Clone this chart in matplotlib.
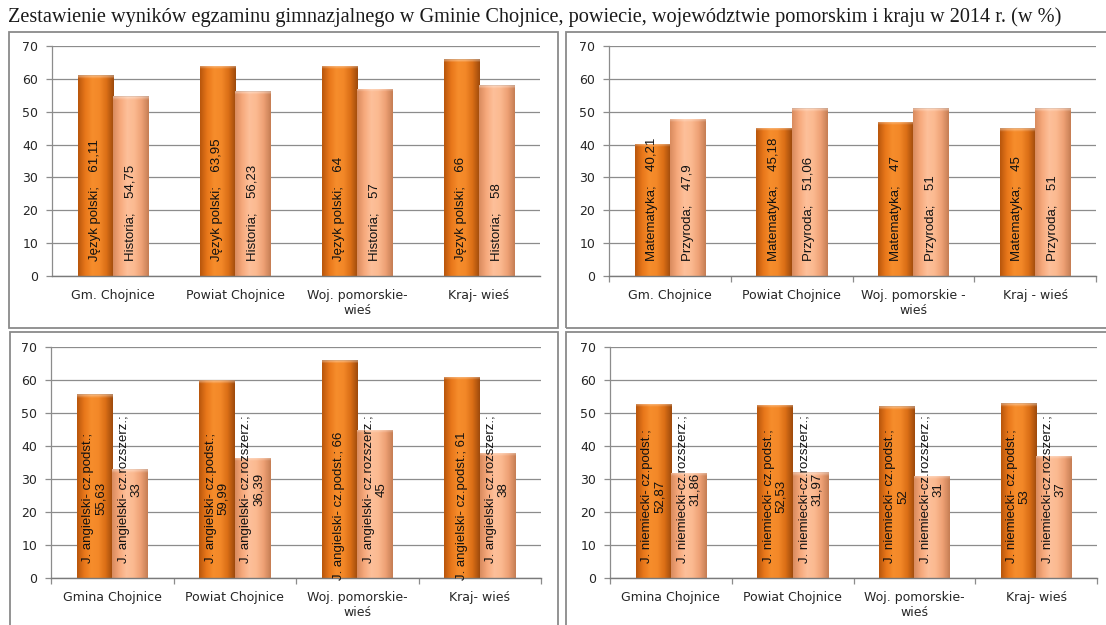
import matplotlib
matplotlib.use("Agg")
import matplotlib.pyplot as plt
import matplotlib.font_manager as fm
import numpy as np
from matplotlib.patches import Rectangle
from matplotlib.colors import to_rgb

# ---------------- data ----------------
title = ("Zestawienie wyników egzaminu gimnazjalnego w Gminie Chojnice, powiecie, "
         "województwie pomorskim i kraju w 2014 r. (w %)")

cats_tl = ["Gm. Chojnice", "Powiat Chojnice", "Woj. pomorskie-\nwieś", "Kraj- wieś"]
cats_tr = ["Gm. Chojnice", "Powiat Chojnice", "Woj. pomorskie -\nwieś", "Kraj - wieś"]
cats_b = ["Gmina Chojnice", "Powiat Chojnice", "Woj. pomorskie-\nwieś", "Kraj- wieś"]

polski = [61.11, 63.95, 64, 66]
historia = [54.75, 56.23, 57, 58]
matematyka = [40.21, 45.18, 47, 45]
przyroda = [47.9, 51.06, 51, 51]
ang_podst = [55.63, 59.99, 66, 61]
ang_rozsz = [33, 36.39, 45, 38]
niem_podst = [52.87, 52.53, 52, 53]
niem_rozsz = [31.86, 31.97, 31, 37]

name_polski = "Język polski;"
name_historia = "Historia;"
name_mat = "Matematyka;"
name_przyr = "Przyroda;"
name_ang_p = "J. angielski- cz.podst.;"
name_ang_r = "J. angielski- cz.rozszerz.;"
name_niem_p = "J. niemiecki- cz.podst.;"
name_niem_r = "J. niemiecki-cz.rozszerz.;"

# label wrapping as drawn in the source (style)
wrap_ang_p = [True, True, False, False]
wrap_all = [True, True, True, True]

# ---------------- style ----------------
W, H = 1106, 625
fig = plt.figure(figsize=(W / 100, H / 100), dpi=100)
fig.patch.set_facecolor("white")

installed = {f.name for f in fm.fontManager.ttflist}
if "Liberation Sans Narrow" in installed:
    lab_family = ["Liberation Sans Narrow", "DejaVu Sans"]
    lab_size = 11
else:
    lab_family = ["Liberation Sans", "DejaVu Sans"]
    lab_size = 9.5

DARK = ["#B9560C", "#E8771A", "#F68D2C", "#F38828", "#DA6E16", "#9E4A0C"]
LIGHT = ["#D98B5E", "#F6A97C", "#FDC09A", "#FBB990", "#EEA175", "#C67E54"]
GRID = "#8c8c8c"


def fmt(v):
    return f"{v:g}".replace(".", ",")


def profile(cols, n=64):
    rgb = np.array([to_rgb(c) for c in cols])
    xs = np.linspace(0, 1, len(cols))
    t = np.linspace(0, 1, n)
    return np.stack([np.interp(t, xs, rgb[:, k]) for k in range(3)], axis=1)


def shade_bars(ax, bars, cols):
    prof = profile(cols)
    for b in bars:
        x, y, w, h = b.get_x(), b.get_y(), b.get_width(), b.get_height()
        nrows = 300
        img = np.repeat(prof[None, :, :], nrows, axis=0)
        bev = max(2, int(nrows * 1.3 / h))
        ramp = np.linspace(0.45, 0.0, bev)[:, None, None]
        img[:bev] = img[:bev] + (1 - img[:bev]) * ramp
        img[0] = img[0] * 0.85
        im = ax.imshow(img, extent=[x, x + w, y, y + h], aspect="auto",
                       interpolation="bilinear", zorder=2.5, origin="upper")
        im.set_clip_path(b)


def panel(rect_px, axes_px, cats, s1, s2, l1, l2, minor_ticks, twoline=False):
    x0, y0, x1, y1 = rect_px
    fig.add_artist(Rectangle((x0 / W, 1 - y1 / H), (x1 - x0) / W, (y1 - y0) / H,
                             transform=fig.transFigure, fill=False,
                             ec="#8a8a8a", lw=1.3, zorder=0))
    ax_l, ax_r, ax_zero, ax_top = axes_px
    ax = fig.add_axes([ax_l / W, 1 - ax_zero / H, (ax_r - ax_l) / W, (ax_zero - ax_top) / H])
    x = np.arange(len(cats))
    bw = 0.29
    b1 = ax.bar(x - bw / 2, s1, bw, color=DARK[2], zorder=2, lw=0)
    b2 = ax.bar(x + bw / 2, s2, bw, color=LIGHT[2], zorder=2, lw=0)
    shade_bars(ax, b1, DARK)
    shade_bars(ax, b2, LIGHT)
    for bars, labs in ((b1, l1), (b2, l2)):
        for b, t in zip(bars, labs):
            xc = b.get_x() + b.get_width() / 2
            base = -0.5 if (twoline and "\n" not in t) else 4.5
            ax.text(xc, base, t, rotation=90, rotation_mode="anchor", ha="left",
                    va="center", multialignment="center", fontsize=lab_size,
                    family=lab_family, linespacing=1.05, color="#111111", zorder=5)
    ax.set_xlim(-0.5, len(cats) - 0.5)
    ax.set_ylim(0, 70)
    ax.set_yticks(range(0, 71, 10))
    ax.set_xticks(x)
    ax.set_xticklabels(cats, fontsize=9, color="#262626", family="DejaVu Sans", linespacing=1.25)
    ax.tick_params(axis="x", which="major", length=0, pad=9)
    if minor_ticks:
        ax.set_xticks(np.arange(-0.5, len(cats), 1.0), minor=True)
        ax.tick_params(axis="x", which="minor", length=4, color=GRID, width=0.9)
    ax.tick_params(axis="y", length=4, color=GRID, width=0.9, pad=6, labelsize=9,
                   labelcolor="#262626")
    for lab in ax.get_yticklabels():
        lab.set_family("DejaVu Sans")
    ax.grid(axis="y", color=GRID, lw=0.9, zorder=0)
    ax.set_axisbelow(True)
    for s in ("top", "right"):
        ax.spines[s].set_visible(False)
    ax.spines["left"].set_color(GRID)
    ax.spines["bottom"].set_color("#7a7a7a")
    ax.spines["left"].set_linewidth(0.9)
    ax.spines["bottom"].set_linewidth(1.0)
    ax.set_facecolor("none")
    return ax


lab_pol = [f"{name_polski}    {fmt(v)}" for v in polski]
lab_his = [f"{name_historia}    {fmt(v)}" for v in historia]
lab_mat = [f"{name_mat}    {fmt(v)}" for v in matematyka]
lab_prz = [f"{name_przyr}    {fmt(v)}" for v in przyroda]
lab_ap = [f"{name_ang_p}{chr(10) if w else ' '}{fmt(v)}" for v, w in zip(ang_podst, wrap_ang_p)]
lab_ar = [f"{name_ang_r}{chr(10) if w else ' '}{fmt(v)}" for v, w in zip(ang_rozsz, wrap_all)]
lab_np = [f"{name_niem_p}{chr(10) if w else ' '}{fmt(v)}" for v, w in zip(niem_podst, wrap_all)]
lab_nr = [f"{name_niem_r}{chr(10) if w else ' '}{fmt(v)}" for v, w in zip(niem_rozsz, wrap_all)]

panel((9, 32, 558, 328), (52, 540, 276, 46), cats_tl, polski, historia, lab_pol, lab_his, False)
panel((566, 32, 1112, 328), (609, 1096, 276, 46), cats_tr, matematyka, przyroda, lab_mat, lab_prz, True)
panel((10, 332, 558, 632), (51, 541, 578, 347), cats_b, ang_podst, ang_rozsz, lab_ap, lab_ar, True, True)
panel((566, 332, 1112, 632), (610, 1097, 578, 347), cats_b, niem_podst, niem_rozsz, lab_np, lab_nr, True, True)

fig.text(8 / W, 1 - 17 / H, title, family=["Liberation Serif", "DejaVu Serif"],
         fontsize=14.6, ha="left", va="center", color="#1a1a1a")

fig.savefig("out.png", dpi=100, facecolor="white")
